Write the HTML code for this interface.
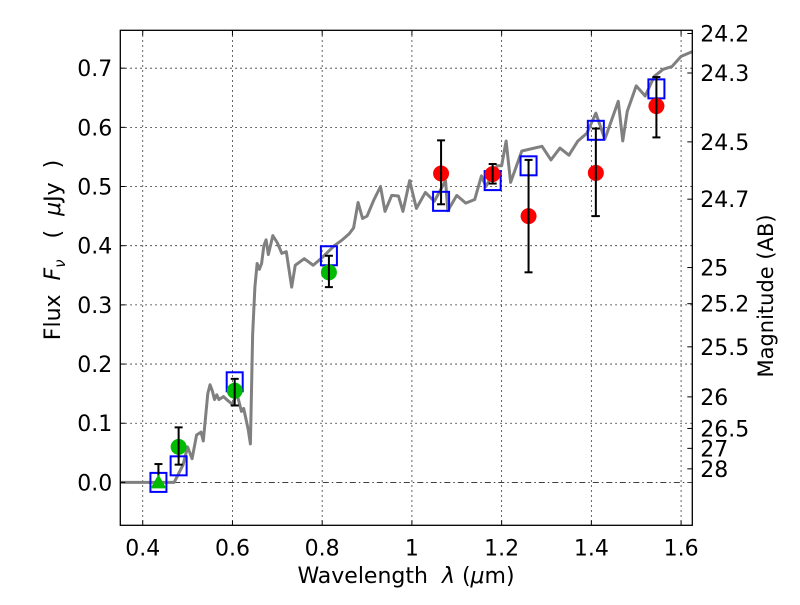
<!DOCTYPE html>
<html><head><meta charset="utf-8"><style>
body{margin:0;background:#fff;}
svg text{font-family:"DejaVu Sans","Liberation Sans",sans-serif;white-space:pre;}
</style></head><body>
<svg id="chart" width="800" height="600" viewBox="0 0 800 600" xmlns="http://www.w3.org/2000/svg">
<rect width="800" height="600" fill="#fff"/>
<g id="grid"></g>
<g id="spec"></g>
<g id="marks"></g>
<rect x="120.3" y="30.3" width="572" height="495" fill="none" stroke="#000" stroke-width="1.3"/>
<g id="axes"></g>
<text x="406" y="583" font-size="22" text-anchor="middle">Wavelength  <tspan font-style="italic">λ</tspan> (<tspan font-style="italic">μ</tspan>m)</text>
<text transform="translate(60,250) rotate(-90)" font-size="22" text-anchor="middle">Flux  <tspan font-style="italic">F</tspan><tspan font-style="italic" font-size="15" dy="5">ν</tspan><tspan dy="-5">   (  </tspan><tspan font-style="italic">μ</tspan>Jy  )</text>
<text transform="translate(773,296) rotate(-90)" font-size="21" text-anchor="middle">Magnitude (AB)</text>
</svg>
<script>
const xTicks=[0.4,0.6,0.8,1.0,1.2,1.4,1.6];
const xTickLabels=["0.4","0.6","0.8","1","1.2","1.4","1.6"];
const yTicks=[0,0.1,0.2,0.3,0.4,0.5,0.6,0.7];
const yTickLabels=["0.0","0.1","0.2","0.3","0.4","0.5","0.6","0.7"];
const magTicks=[24.2,24.3,24.5,24.7,25,25.2,25.5,26,26.5,27,28];
const specWave=[0.35,0.47,0.49,0.50,0.51,0.52,0.53,0.535,0.545,0.55,0.555,0.56,0.565,0.57,0.58,0.59,0.60,0.61,0.62,0.625,0.635,0.64,0.645,0.65,0.655,0.66,0.665,0.67,0.675,0.68,0.69,0.70,0.71,0.72,0.732,0.74,0.76,0.78,0.80,0.827,0.845,0.86,0.87,0.88,0.89,0.90,0.915,0.93,0.94,0.955,0.97,0.98,0.995,1.01,1.03,1.05,1.075,1.08,1.10,1.12,1.14,1.155,1.165,1.19,1.20,1.21,1.22,1.245,1.29,1.31,1.33,1.35,1.37,1.39,1.41,1.43,1.46,1.47,1.48,1.50,1.52,1.54,1.56,1.58,1.60,1.625];
const specFlux=[0,0,0.03,0.06,0.04,0.08,0.085,0.07,0.15,0.165,0.155,0.14,0.148,0.14,0.145,0.138,0.132,0.15,0.12,0.125,0.09,0.065,0.25,0.33,0.37,0.36,0.37,0.40,0.41,0.385,0.417,0.405,0.387,0.39,0.33,0.367,0.378,0.367,0.38,0.40,0.41,0.42,0.43,0.473,0.446,0.45,0.477,0.50,0.458,0.485,0.484,0.458,0.51,0.463,0.49,0.475,0.51,0.459,0.485,0.472,0.478,0.518,0.50,0.535,0.535,0.577,0.507,0.56,0.568,0.545,0.565,0.553,0.577,0.59,0.624,0.58,0.644,0.577,0.627,0.67,0.653,0.686,0.698,0.703,0.72,0.728];
const greenWave=[0.48,0.605,0.815];
const greenFlux=[0.06,0.155,0.355];
const greenLo=[0.03,0.13,0.33];
const greenHi=[0.093,0.175,0.383];
const triWave=[0.435];const triFlux=[0.0];const triHi=[0.031];
const redWave=[1.065,1.18,1.26,1.41,1.545];
const redFlux=[0.522,0.521,0.45,0.523,0.636];
const redLo=[0.47,0.505,0.355,0.45,0.583];
const redHi=[0.578,0.538,0.545,0.598,0.685];
const boxWave=[0.435,0.48,0.605,0.815,1.065,1.18,1.26,1.41,1.545];
const boxFlux=[0.0,0.028,0.17,0.383,0.475,0.51,0.535,0.595,0.665];

const NS="http://www.w3.org/2000/svg";
const L=120.3,R=692.3,T=30.3,B=525.3;
const xmin=0.35,xmax=1.625,ymin=-0.0725,ymax=0.764;
const X=v=>L+(v-xmin)/(xmax-xmin)*(R-L);
const Y=v=>B-(v-ymin)/(ymax-ymin)*(B-T);
function mk(tag,attrs,parent){const e=document.createElementNS(NS,tag);for(const k in attrs)e.setAttribute(k,attrs[k]);parent.appendChild(e);return e;}
const grid=document.getElementById('grid'),axes=document.getElementById('axes'),spec=document.getElementById('spec'),marks=document.getElementById('marks');
xTicks.forEach((t,i)=>{
 const g=mk('line',{x1:X(t),x2:X(t),y1:T,y2:B,stroke:'#000','stroke-width':0.8,'stroke-dasharray':'1.5,3.5'},grid);
 
 
 mk('line',{x1:X(t),x2:X(t),y1:B,y2:B-5,stroke:'#000'},axes);
 mk('line',{x1:X(t),x2:X(t),y1:T,y2:T+5,stroke:'#000'},axes);
 const tx=mk('text',{x:X(t),y:B+30,'font-size':22,'text-anchor':'middle'},axes);tx.textContent=xTickLabels[i];
 
 
});
yTicks.forEach((t,i)=>{
 const g=mk('line',{x1:L,x2:R,y1:Y(t),y2:Y(t),stroke:'#000','stroke-width':0.8,'stroke-dasharray':t===0?'6,3,1.5,3':'1.5,3.5'},grid);
 
 
 mk('line',{x1:L,x2:L+5,y1:Y(t),y2:Y(t),stroke:'#000'},axes);
 const tx=mk('text',{x:L-8,y:Y(t)+8,'font-size':22,'text-anchor':'end'},axes);tx.textContent=yTickLabels[i];
 
 
});
magTicks.forEach(m=>{
 const f=Math.pow(10,(23.9-m)/2.5);const y=Y(f);
 mk('line',{x1:R,x2:R-5,y1:y,y2:y,stroke:'#000'},axes);
 const tx=mk('text',{x:R+8,y:y+8,'font-size':22},axes);tx.textContent=String(m);
 
 
});
const sp=mk('polyline',{points:specWave.map((w,i)=>X(w)+','+Y(specFlux[i])).join(' '),fill:'none',stroke:'#808080','stroke-width':3,'stroke-linejoin':'round'},spec);


function err(x,lo,hi){
 mk('line',{x1:X(x),x2:X(x),y1:Y(lo),y2:Y(hi),stroke:'#000','stroke-width':2},marks);
 [lo,hi].forEach(v=>mk('line',{x1:X(x)-4,x2:X(x)+4,y1:Y(v),y2:Y(v),stroke:'#000','stroke-width':2},marks));
}
boxWave.forEach((w,i)=>{
 const b=mk('rect',{x:X(w)-8,y:Y(boxFlux[i])-9.5,width:16,height:19,fill:'none',stroke:'#0000ff','stroke-width':2},marks);
 
 
});
triWave.forEach((w,i)=>{
 err(w,triFlux[i],triHi[i]);
 const t=mk('polygon',{points:`${X(w)-8},${Y(triFlux[i])+6} ${X(w)+8},${Y(triFlux[i])+6} ${X(w)},${Y(triFlux[i])-8}`,fill:'#00bb00'},marks);
 
 
});
greenWave.forEach((w,i)=>{
 const c=mk('circle',{cx:X(w),cy:Y(greenFlux[i]),r:8,fill:'#00bb00'},marks);
 
 
 err(w,greenLo[i],greenHi[i]);
});
redWave.forEach((w,i)=>{
 const c=mk('circle',{cx:X(w),cy:Y(redFlux[i]),r:8,fill:'#ff0000'},marks);
 
 
 err(w,redLo[i],redHi[i]);
});
</script>
</body></html>
